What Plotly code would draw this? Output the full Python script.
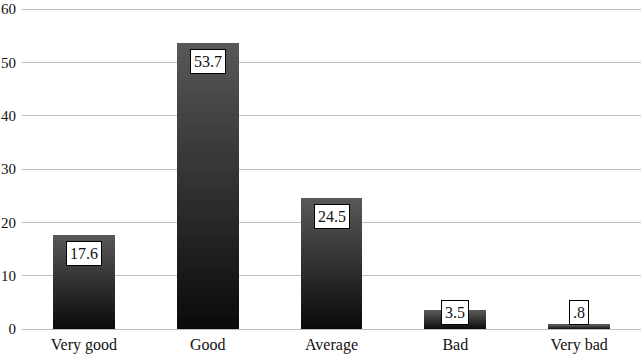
import plotly.graph_objects as go

categories = ["Very good", "Good", "Average", "Bad", "Very bad"]
values = [17.6, 53.7, 24.5, 3.5, 0.8]
value_labels = ["17.6", "53.7", "24.5", "3.5", ".8"]
y_ticks = [0, 10, 20, 30, 40, 50, 60]

FONT = "'Liberation Serif', 'Times New Roman', 'DejaVu Serif', serif"
N = 60
bottom = (10, 10, 10)
top = (88, 88, 88)

fig = go.Figure()
for k in range(N):
    t = (k + 0.5) / N
    c = tuple(round(bottom[i] + (top[i] - bottom[i]) * t) for i in range(3))
    fig.add_trace(go.Bar(
        x=categories, y=[v / N for v in values],
        marker=dict(color="rgb(%d,%d,%d)" % c, line=dict(width=0)),
        showlegend=False, hoverinfo="skip",
    ))

for cat, v, lab in zip(categories, values, value_labels):
    fig.add_annotation(
        x=cat, y=max(v, 6.5), yanchor="top", yshift=-6, showarrow=False,
        text=lab, font=dict(family=FONT, size=16, color="#111"),
        bgcolor="white", bordercolor="black", borderwidth=1, borderpad=3,
    )

fig.update_layout(
    width=641, height=356,
    margin=dict(l=22, r=0, t=7, b=27, autoexpand=False),
    barmode="stack", bargap=0.5,
    paper_bgcolor="white", plot_bgcolor="white",
    font=dict(family=FONT, size=15, color="#111"),
    xaxis=dict(showgrid=False, showline=False, ticks="", tickfont=dict(size=16),
               ticklabelstandoff=4, automargin=False),
    yaxis=dict(range=[0, 60.4], tickvals=y_ticks, showgrid=True, gridcolor="#bdbdbd",
               gridwidth=1, zeroline=True, zerolinecolor="#bdbdbd", zerolinewidth=1,
               showline=False, ticks="", tickfont=dict(size=15), ticklabelstandoff=5,
               automargin=False),
)

fig.write_html("out.html", config={"displayModeBar": False},
               post_script="document.body.style.margin='0';document.body.style.overflow='hidden';")
